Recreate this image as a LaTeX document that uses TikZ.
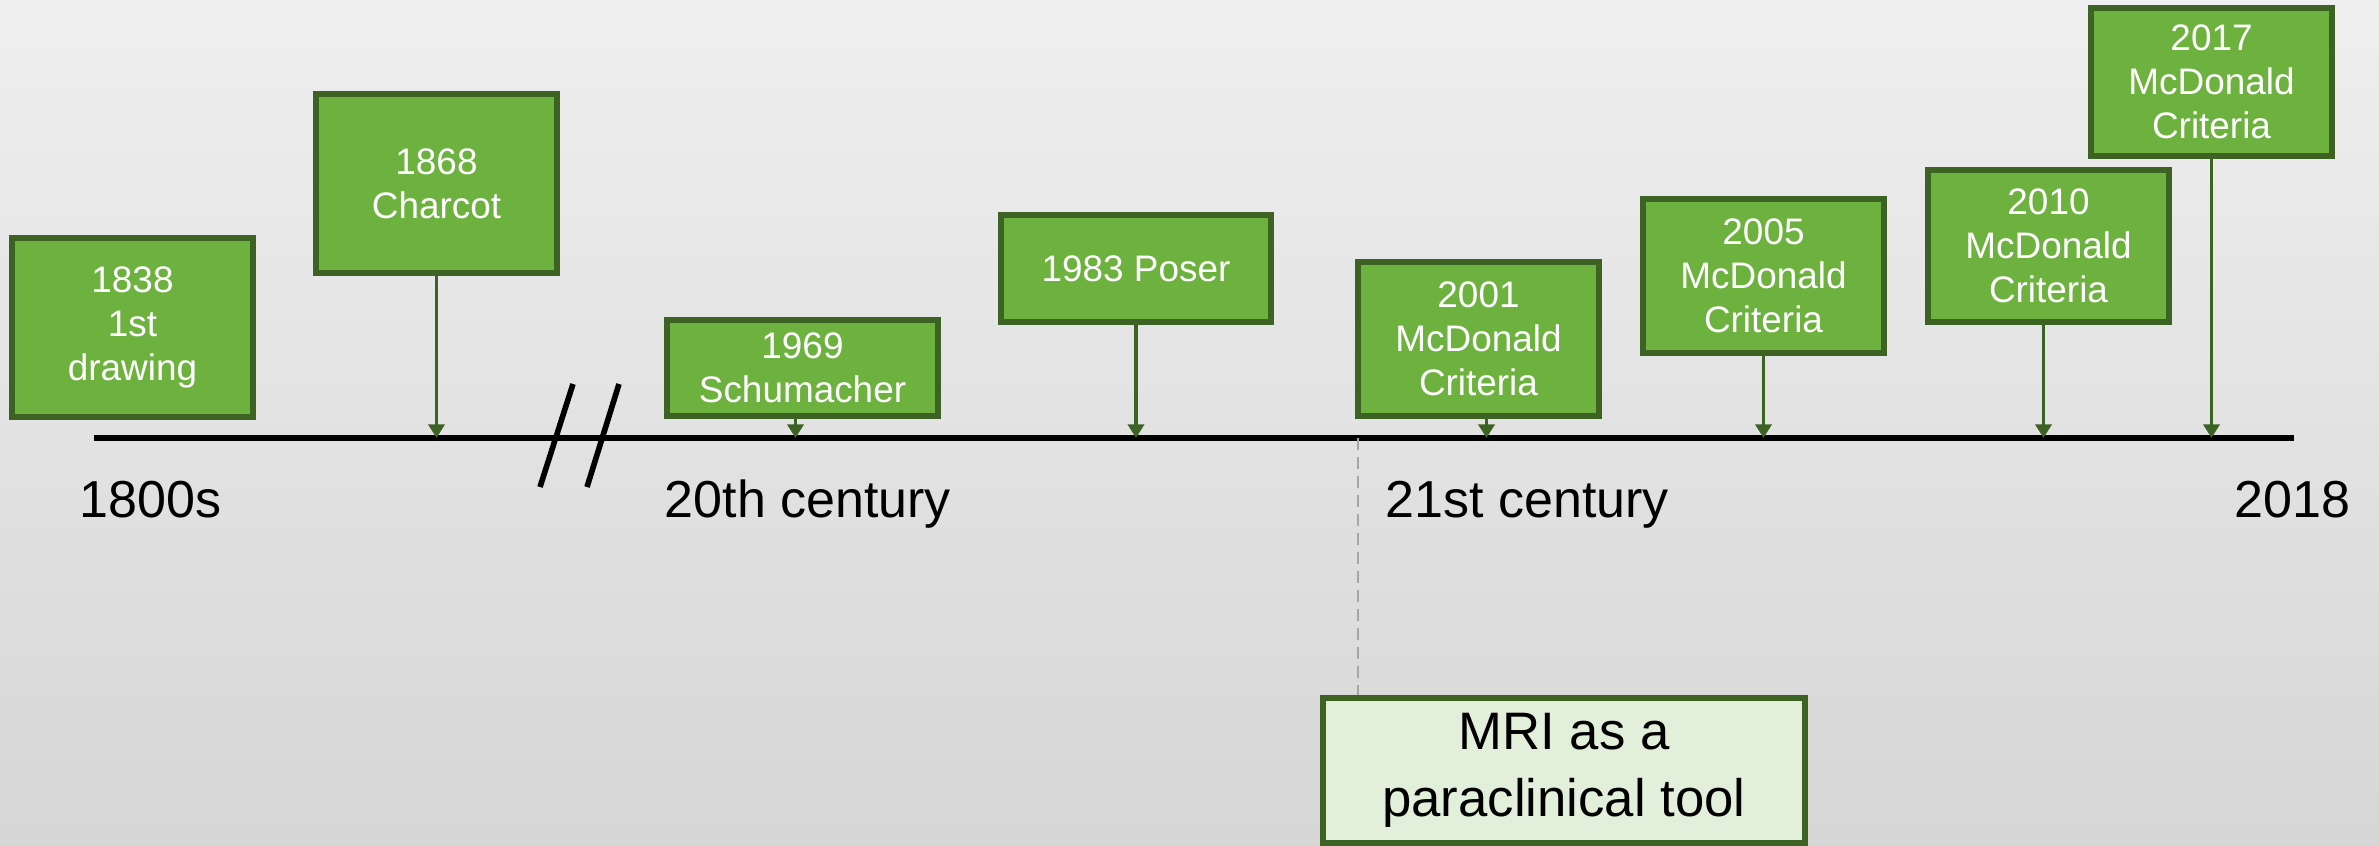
\documentclass[tikz,border=0pt]{standalone}
\usepackage{xcolor}
\usepackage{fontspec}
\setmainfont{Liberation Sans}
\usepackage{tikz}
\usetikzlibrary{arrows.meta}
\definecolor{GFill}{HTML}{6DB23F}
\definecolor{GEdge}{HTML}{3D6324}
\definecolor{GLight}{HTML}{E2EFDA}
\definecolor{BgTop}{HTML}{EFEFEF}
\definecolor{BgBot}{HTML}{D6D6D6}
\definecolor{DashGray}{HTML}{A6A6A6}

\begin{document}
\begin{tikzpicture}[%
  event/.style={draw=GEdge, line width=1.5pt, fill=GFill, text=white, align=center, inner sep=0pt, minimum width=2.41cm, font=\fontsize{10.5}{12.6}\selectfont},%
  era/.style={inner sep=0pt, font=\fontsize{14.8}{17.8}\selectfont},%
  pin/.style={draw=GEdge, line width=1.1pt, -{Triangle[width=4.6pt,length=3.9pt]}},%
  axis/.style={line width=1.6pt, black},%
]%
\shade[top color=BgTop, bottom color=BgBot] (0,0) rectangle (23.79,8.45);%
\useasboundingbox (0,0) rectangle (23.79,8.45);%
\coordinate (tlstart) at (0.94, 4.07);%
\coordinate (tlend) at (22.94, 4.07);%
\coordinate (c21) at (13.58, 4.07);%
\draw[axis] (tlstart) -- (tlend);%
\draw[axis] (5.40, 3.58) -- (5.73, 4.61);%
\draw[axis] (5.87, 3.58) -- (6.19, 4.61);%
\node[era, anchor=base west] (l1800) at (0.79, 3.28) {1800s};%
\node[era, anchor=base west] (l20th) at (6.64, 3.28) {20th century};%
\node[era, anchor=base west] (l21st) at (13.85, 3.28) {21st century};%
\node[era, anchor=base east] (l2018) at (23.51, 3.28) {2018};%
\node[event, minimum height=1.79cm] (b1838) at (1.325, 5.175) {1838\\1st\\drawing};%
\node[event, minimum height=1.79cm] (b1868) at (4.365, 6.615) {1868\\Charcot};%
\node[event, minimum width=2.71cm, minimum height=0.96cm] (b1969) at (8.025, 4.77) {1969\\Schumacher};%
\node[event, minimum width=2.70cm, minimum height=1.07cm] (b1983) at (11.36, 5.765) {1983 Poser};%
\node[event, minimum height=1.54cm] (b2001) at (14.785, 5.06) {2001\\McDonald\\Criteria};%
\node[event, minimum height=1.54cm] (b2005) at (17.635, 5.69) {2005\\McDonald\\Criteria};%
\node[event, minimum height=1.52cm] (b2010) at (20.485, 5.99) {2010\\McDonald\\Criteria};%
\node[event, minimum height=1.48cm] (b2017) at (22.115, 7.63) {2017\\McDonald\\Criteria};%
\node[draw=GEdge, line width=1.5pt, fill=GLight, align=center, inner sep=0pt, minimum width=4.82cm, minimum height=1.45cm, font=\fontsize{15}{19}\selectfont] (mri) at (15.64, 0.745) {MRI as a\\paraclinical tool};%
\draw[pin] (b1868.south) -- (b1868.south |- tlstart);%
\draw[pin] ([xshift=-0.07cm]b1969.south) -- ([xshift=-0.07cm]b1969.south |- tlstart);%
\draw[pin] (b1983.south) -- (b1983.south |- tlstart);%
\draw[pin] ([xshift=0.08cm]b2001.south) -- ([xshift=0.08cm]b2001.south |- tlstart);%
\draw[pin] (b2005.south) -- (b2005.south |- tlstart);%
\draw[pin] ([xshift=-0.05cm]b2010.south) -- ([xshift=-0.05cm]b2010.south |- tlstart);%
\draw[pin] (b2017.south) -- (b2017.south |- tlstart);%
\draw[DashGray, line width=0.8pt, dash pattern=on 0.12cm off 0.07cm] (c21) -- (c21 |- mri.north);%
\end{tikzpicture}
\end{document}
